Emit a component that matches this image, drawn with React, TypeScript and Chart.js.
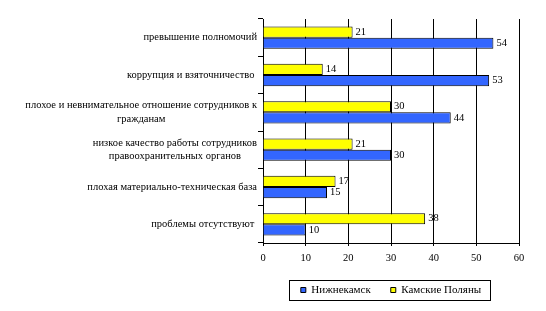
import React, { useEffect, useRef } from "react";
import { Chart, registerables } from "chart.js";

Chart.register(...registerables);

const FONT = "'Liberation Serif', 'Times New Roman', serif";

const categories: (string | string[])[] = [
  "превышение полномочий",
  "коррупция и взяточничество ",
  ["плохое и невнимательное отношение сотрудников к", "гражданам"],
  ["низкое качество работы сотрудников", "правоохранительных органов"],
  "плохая материально-техническая база",
  "проблемы отсутствуют ",
];
const seriesNames = ["Нижнекамск", "Камские Поляны"];
const nizhnekamsk = [54, 53, 44, 30, 15, 10];
const kamskiePolyany = [21, 14, 30, 21, 17, 38];
const xMin = 0;
const xMax = 60;
const xStep = 10;

const valueLabels = {
  id: "valueLabels",
  afterDatasetsDraw(chart: any) {
    const ctx = chart.ctx;
    ctx.save();
    ctx.font = `10.5px ${FONT}`;
    ctx.fillStyle = "#000";
    ctx.textAlign = "left";
    ctx.textBaseline = "middle";
    chart.data.datasets.forEach((ds: any, di: number) => {
      const meta = chart.getDatasetMeta(di);
      meta.data.forEach((bar: any, i: number) => {
        ctx.fillText(String(ds.data[i]), bar.x + 3, bar.y);
      });
    });
    ctx.restore();
  },
};

const categoryLabels = {
  id: "categoryLabels",
  afterDraw(chart: any) {
    const ctx = chart.ctx;
    const yScale = chart.scales.y;
    const right = chart.chartArea.left - 6;
    const lh = 13.4;
    ctx.save();
    ctx.font = `10.5px ${FONT}`;
    ctx.fillStyle = "#000";
    ctx.textAlign = "center";
    ctx.textBaseline = "middle";
    (chart.data.labels as any[]).forEach((lab, i) => {
      const lines: string[] = Array.isArray(lab) ? lab : [lab];
      const maxW = Math.max(...lines.map((l) => ctx.measureText(l).width));
      const cx = right - maxW / 2;
      const cy = yScale.getPixelForValue(i);
      lines.forEach((l, k) => {
        ctx.fillText(l, cx, cy - ((lines.length - 1) * lh) / 2 + k * lh);
      });
    });
    ctx.restore();
  },
};

const legendBorder = {
  id: "legendBorder",
  afterDraw(chart: any) {
    const legend = chart.legend;
    if (!legend || !legend.legendHitBoxes || !legend.legendHitBoxes.length) return;
    const hb = legend.legendHitBoxes;
    const left = Math.min(...hb.map((h: any) => h.left)) - 12;
    const right = Math.max(...hb.map((h: any) => h.left + h.width)) + 9;
    const cy = hb[0].top + hb[0].height / 2;
    const ctx = chart.ctx;
    ctx.save();
    ctx.strokeStyle = "#000";
    ctx.lineWidth = 1;
    ctx.strokeRect(Math.round(left) + 0.5, Math.round(cy - 10) + 0.5, Math.round(right - left), 20);
    ctx.restore();
  },
};

export default function App() {
  const ref = useRef<HTMLCanvasElement | null>(null);
  useEffect(() => {
    if (!ref.current) return;
    const chart = new Chart(ref.current, {
      type: "bar",
      data: {
        labels: categories as any,
        datasets: [
          {
            label: seriesNames[1],
            data: kamskiePolyany,
            backgroundColor: "#FFFF00",
            borderColor: "#000",
            borderWidth: 1,
            categoryPercentage: 0.6,
            barPercentage: 1,
          },
          {
            label: seriesNames[0],
            data: nizhnekamsk,
            backgroundColor: "#3366FF",
            borderColor: "#000",
            borderWidth: 1,
            categoryPercentage: 0.6,
            barPercentage: 1,
          },
        ],
      },
      options: {
        indexAxis: "y",
        responsive: false,
        animation: false,
        events: [],
        layout: { padding: { left: 0, top: 19, right: 27, bottom: 5.5 } },
        scales: {
          x: {
            min: xMin,
            max: xMax,
            ticks: {
              stepSize: xStep,
              color: "#000",
              padding: 6,
              font: { size: 10.5, family: FONT },
            },
            grid: { color: "#000", tickLength: 3, lineWidth: 1 },
            border: { color: "#000", width: 1 },
            afterFit: (s: any) => {
              s.height = 21.5;
            },
          },
          y: {
            type: "category",
            offset: true,
            ticks: { display: false },
            grid: {
              drawOnChartArea: false,
              offset: true,
              tickLength: 5,
              color: "#000",
            },
            border: { color: "#000", width: 1 },
            afterFit: (s: any) => {
              s.width = 263;
            },
          },
        },
        plugins: {
          tooltip: { enabled: false },
          legend: {
            position: "bottom",
            fullSize: false,
            reverse: true,
            labels: {
              boxWidth: 5,
              boxHeight: 5,
              padding: 20,
              color: "#000",
              font: { size: 11, family: FONT },
            },
          },
        },
      } as any,
      plugins: [valueLabels, categoryLabels, legendBorder],
    });
    return () => chart.destroy();
  }, []);
  return (
    <div style={{ position: "fixed", left: 0, top: 0, width: 546, height: 311, background: "#fff" }}>
      <canvas ref={ref} width={546} height={311} />
    </div>
  );
}
